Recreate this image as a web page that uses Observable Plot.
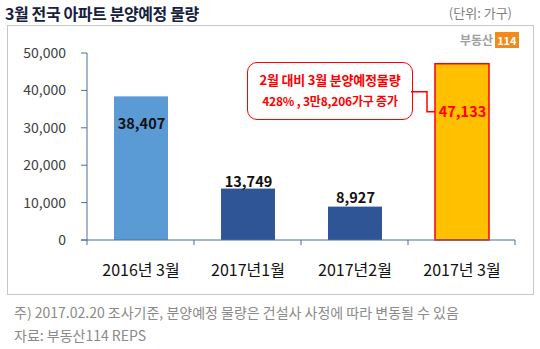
<!DOCTYPE html>
<html><head><meta charset="utf-8">
<script src="https://cdn.jsdelivr.net/npm/d3@7"></script>
<script src="https://cdn.jsdelivr.net/npm/@observablehq/plot@0.6"></script>
<style>
body{margin:0;background:#fff;font-family:"Noto Sans CJK KR","Noto Sans",sans-serif;}
#wrap{position:relative;width:540px;height:349px;overflow:hidden;}
#wrap svg{position:absolute;left:0;top:0;}
.abs{position:absolute;white-space:nowrap;}
#title{left:5px;top:1px;font-size:16px;font-weight:bold;color:#16213e;letter-spacing:-0.4px;}
#unit{right:28px;top:3px;font-size:13px;color:#7f7f7f;}
#frame{left:7px;top:25px;width:525px;height:268px;border:1px solid #c8c8c8;}
#logo{left:460px;top:31px;font-size:12px;font-weight:bold;color:#a0a0a0;}
#logo span{display:inline-block;background:#f08a1c;color:#fff;padding:0 2px;margin-left:2px;font-size:11px;line-height:16px;}
#callout{left:247px;top:62px;width:164px;height:56px;border:1.5px solid #ff0000;border-radius:10px;background:#fff;color:#ff0000;font-weight:bold;text-align:center;}
#callout .l1{font-size:13px;margin-top:9px;line-height:16px;letter-spacing:-0.2px;}
#callout .l2{font-size:12px;margin-top:5px;line-height:16px;letter-spacing:-0.2px;}
.foot{left:14px;font-size:14px;color:#8a8a8a;}
</style></head>
<body><div id="wrap"></div>
<script>
const categories = ["2016년 3월", "2017년1월", "2017년2월", "2017년 3월"];
const values = [38407, 13749, 8927, 47133];
const yTicks = [0, 10000, 20000, 30000, 40000, 50000];
const titleText = "3월 전국 아파트 분양예정 물량";
const unitText = "(단위: 가구)";
const calloutLines = ["2월 대비 3월 분양예정물량", "428% , 3만8,206가구 증가"];
const footLines = ["주) 2017.02.20 조사기준, 분양예정 물량은 건설사 사정에 따라 변동될 수 있음", "자료: 부동산114 REPS"];

const data = categories.map((c, i) => ({cat: c, value: values[i], i}));
const barFill = ["#5b9bd5", "#2f5597", "#2f5597", "#ffc000"];
const fmt = d3.format(",");
const font = '"Noto Sans CJK KR","Noto Sans",sans-serif';
const axisColor = "#4a6fa0";

function axesMark(index, scales, values_, dims) {
  const g = d3.create("svg:g");
  for (const t of yTicks) {
    const yy = scales.y(t);
    g.append("line").attr("x1", dims.marginLeft - 6).attr("x2", dims.marginLeft).attr("y1", yy).attr("y2", yy).attr("stroke", axisColor);
    g.append("text").attr("x", dims.marginLeft - 21).attr("y", yy).attr("dy", "0.35em").attr("text-anchor", "end")
      .attr("font-size", 14).attr("fill", "#404040").attr("font-family", font).text(fmt(t));
  }
  g.append("line").attr("x1", dims.marginLeft).attr("x2", dims.marginLeft).attr("y1", scales.y(50000)).attr("y2", scales.y(0)).attr("stroke", axisColor);
  const step = (dims.width - dims.marginLeft - dims.marginRight) / categories.length;
  const y0 = scales.y(0);
  g.append("line").attr("x1", dims.marginLeft - 6).attr("x2", dims.width - dims.marginRight).attr("y1", y0).attr("y2", y0).attr("stroke", axisColor);
  for (let k = 0; k <= categories.length; k++) {
    const xx = dims.marginLeft + k * step;
    g.append("line").attr("x1", xx).attr("x2", xx).attr("y1", y0).attr("y2", y0 + 5).attr("stroke", axisColor);
  }
  for (const c of categories) {
    g.append("text").attr("x", scales.x(c) + scales.x.bandwidth() / 2).attr("y", y0 + 30).attr("dy", "0.35em")
      .attr("text-anchor", "middle").attr("font-size", 16).attr("fill", "#111").attr("font-family", font).text(c);
  }
  return g.node();
}

function connectorMark(index, scales, values_, dims) {
  const last = categories[3];
  const bx = scales.x(last);
  const ly = scales.y(values[3]) + 48;
  const p = d3.create("svg:path")
    .attr("d", `M${bx - 24},${ly - 20}H${bx - 8}V${ly}H${bx}`)
    .attr("fill", "none").attr("stroke", "#ff0000").attr("stroke-width", 1.5);
  return p.node();
}

const plot = Plot.plot({
  width: 540, height: 349,
  marginLeft: 87, marginRight: 25, marginTop: 53, marginBottom: 109,
  style: {background: "transparent", fontFamily: font},
  x: {domain: categories, paddingInner: 0.5, paddingOuter: 0.25, axis: null},
  y: {domain: [0, 50000], axis: null},
  marks: [
    Plot.barY(data, {x: "cat", y: "value", fill: d => barFill[d.i], stroke: d => d.i === 3 ? "#ff0000" : "none", strokeWidth: 1.5}),
    axesMark,
    connectorMark,
    Plot.text(data.filter(d => d.i === 0), {x: "cat", y: "value", text: d => fmt(d.value), dy: 28, fontSize: 14.5, fontWeight: "bold", fill: "#111"}),
    Plot.text(data.filter(d => d.i === 1), {x: "cat", y: "value", text: d => fmt(d.value), dy: -7, fontSize: 14.5, fontWeight: "bold", fill: "#111"}),
    Plot.text(data.filter(d => d.i === 2), {x: "cat", y: "value", text: d => fmt(d.value), dy: -9, fontSize: 14.5, fontWeight: "bold", fill: "#111"}),
    Plot.text(data.filter(d => d.i === 3), {x: "cat", y: "value", text: d => fmt(d.value), dy: 48, fontSize: 14.5, fontWeight: "bold", fill: "#ff0000"})
  ]
});

const wrap = document.getElementById("wrap");
wrap.innerHTML = `
<div class="abs" id="frame"></div>
<div class="abs" id="title">${titleText}</div>
<div class="abs" id="unit">${unitText}</div>
<div class="abs" id="logo">부동산<span>114</span></div>
<div class="abs foot" style="top:302px">${footLines[0]}</div>
<div class="abs foot" style="top:325px">${footLines[1]}</div>`;
const co = document.createElement("div");
co.className = "abs"; co.id = "callout";
co.innerHTML = `<div class="l1">${calloutLines[0]}</div><div class="l2">${calloutLines[1]}</div>`;
wrap.appendChild(co);
wrap.appendChild(plot);
</script></body></html>
